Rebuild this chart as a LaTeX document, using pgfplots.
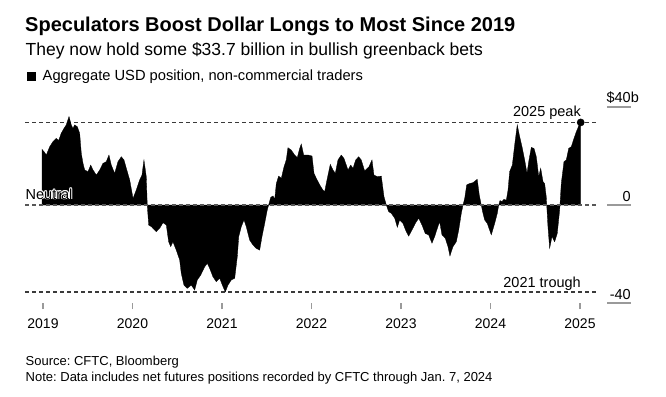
\documentclass[border=0pt]{standalone}
\usepackage{pgfplots}
\pgfplotsset{compat=1.18}
\usepackage{pgfplotstable}
\usepackage{fontspec}
\setmainfont{Liberation Sans}
\frenchspacing

\definecolor{dashgray}{HTML}{3A3A3A}
\definecolor{tickgray}{HTML}{9A9A9A}

\pgfplotstableread{
x v
2018.989 0
2018.989 22.7
2019.011 21.8
2019.037 20.4
2019.075 23.8
2019.112 25.9
2019.149 27.2
2019.175 26.3
2019.204 29.3
2019.235 31.3
2019.260 32.7
2019.291 36.1
2019.316 32.7
2019.335 31.3
2019.354 32.7
2019.383 32.0
2019.410 29.3
2019.428 21.1
2019.447 17.0
2019.466 14.3
2019.503 13.6
2019.533 16.3
2019.559 14.3
2019.596 12.2
2019.634 14.3
2019.670 17.0
2019.707 17.7
2019.737 20.4
2019.763 16.3
2019.801 12.9
2019.838 17.7
2019.875 19.7
2019.905 18.4
2019.931 15.0
2019.969 10.2
2020.006 2.7
2020.042 6.1
2020.080 10.2
2020.106 12.2
2020.128 18.4
2020.154 11.6
2020.165 0.0
2020.181 -8.2
2020.210 -8.8
2020.229 -9.5
2020.266 -10.9
2020.304 -9.5
2020.341 -7.2
2020.378 -8.2
2020.404 -15.0
2020.427 -17.0
2020.452 -15.0
2020.489 -18.4
2020.527 -22.4
2020.545 -27.9
2020.575 -32.7
2020.612 -34.0
2020.657 -32.7
2020.695 -34.7
2020.724 -30.6
2020.762 -28.6
2020.807 -25.2
2020.836 -23.8
2020.863 -25.9
2020.899 -29.3
2020.936 -31.3
2020.974 -29.9
2021.011 -33.3
2021.037 -35.5
2021.067 -32.7
2021.104 -30.6
2021.142 -29.9
2021.171 -21.1
2021.187 -12.9
2021.216 -8.8
2021.246 -6.1
2021.271 -8.8
2021.309 -14.3
2021.346 -16.3
2021.383 -17.7
2021.421 -18.4
2021.447 -12.9
2021.477 -7.5
2021.506 -2.0
2021.525 0.5
2021.544 3.1
2021.570 3.7
2021.589 2.3
2021.607 8.8
2021.633 11.8
2021.663 10.9
2021.693 15.6
2021.718 18.4
2021.737 23.4
2021.774 22.4
2021.812 20.4
2021.841 19.3
2021.868 23.1
2021.886 24.9
2021.913 20.4
2021.961 20.4
2022.006 20.0
2022.028 12.9
2022.054 10.9
2022.092 8.2
2022.128 6.1
2022.147 5.4
2022.177 10.9
2022.210 16.6
2022.240 14.3
2022.266 12.9
2022.296 18.4
2022.333 20.4
2022.363 19.0
2022.408 14.3
2022.438 16.3
2022.464 15.0
2022.494 18.4
2022.527 19.7
2022.556 18.4
2022.594 13.9
2022.642 15.6
2022.676 18.4
2022.698 12.2
2022.735 11.6
2022.780 11.8
2022.810 3.4
2022.836 0.0
2022.862 -2.7
2022.892 -3.4
2022.930 -5.4
2022.959 -9.1
2022.985 -6.1
2023.022 -7.5
2023.059 -10.9
2023.086 -12.7
2023.123 -10.2
2023.160 -7.5
2023.198 -5.4
2023.235 -8.2
2023.271 -11.6
2023.309 -12.2
2023.346 -15.6
2023.376 -12.9
2023.413 -8.8
2023.432 -6.8
2023.458 -12.2
2023.495 -13.6
2023.525 -17.0
2023.547 -20.8
2023.581 -17.0
2023.618 -15.0
2023.645 -10.2
2023.674 -3.4
2023.693 0.0
2023.712 2.7
2023.734 8.2
2023.768 8.8
2023.804 9.1
2023.852 10.5
2023.875 4.0
2023.897 0.0
2023.916 -3.4
2023.935 -6.1
2023.964 -7.5
2024.009 -12.2
2024.047 -7.5
2024.076 -3.4
2024.092 0.0
2024.106 1.8
2024.128 1.4
2024.151 2.3
2024.177 2.0
2024.196 6.1
2024.214 13.6
2024.244 16.3
2024.270 24.5
2024.299 32.7
2024.326 27.9
2024.352 23.8
2024.382 18.4
2024.408 12.9
2024.427 17.7
2024.456 23.5
2024.486 23.1
2024.512 19.7
2024.539 11.6
2024.561 15.0
2024.587 9.5
2024.605 8.8
2024.623 3.4
2024.642 -8.8
2024.661 -17.7
2024.687 -12.9
2024.717 -15.0
2024.746 -11.6
2024.773 -2.0
2024.791 8.8
2024.821 17.7
2024.847 18.4
2024.874 23.1
2024.903 23.8
2024.933 27.2
2024.959 29.9
2024.985 32.2
2025.008 33.7
2025.008 0
}\usdpos

\newcommand{\halo}[1]{%
  \foreach \dx/\dy in {0.9/0,-0.9/0,0/0.9,0/-0.9,0.65/0.65,-0.65/0.65,0.65/-0.65,-0.65/-0.65}{%
    \node[anchor=base west, inner sep=0pt, text=white, font=\fontsize{14.5bp}{17bp}\selectfont] at ([xshift=\dx bp, yshift=\dy bp]25.5bp,-199bp) {#1};}%
  \node[anchor=base west, inner sep=0pt, font=\fontsize{14.5bp}{17bp}\selectfont] at (25.5bp,-199bp) {#1};}

\begin{document}
\begin{tikzpicture}
\useasboundingbox[fill=white] (0bp,0bp) rectangle (666bp,-397bp);

\node[anchor=base west, inner sep=0pt] at (25bp,-31.7bp) {\fontsize{20bp}{24bp}\selectfont\bfseries Speculators Boost Dollar Longs to Most Since 2019};
\node[anchor=base west, inner sep=0pt] at (25.5bp,-55.7bp) {\fontsize{17.5bp}{21bp}\selectfont They now hold some \$33.7 billion in bullish greenback bets};
\fill[black] (27.3bp,-71.7bp) rectangle (36bp,-80.6bp);
\node[anchor=base west, inner sep=0pt] at (42.5bp,-80.3bp) {\fontsize{14.7bp}{17bp}\selectfont Aggregate USD position, non-commercial traders};

\node[anchor=base west, inner sep=0pt] at (25.5bp,-365.5bp) {\fontsize{13bp}{15bp}\selectfont Source: CFTC, Bloomberg};
\node[anchor=base west, inner sep=0pt] at (25.5bp,-381.5bp) {\fontsize{13bp}{15bp}\selectfont Note: Data includes net futures positions recorded by CFTC through Jan. 7, 2024};

\begin{axis}[
  at={(25bp,-303bp)}, anchor=south west,
  scale only axis, width=606bp, height=196bp,
  xmin=2018.799, xmax=2025.570, ymin=-40, ymax=40,
  axis line style={draw=none},
  clip=false,
  xtick={2019,2020,2021,2022,2023,2024,2025},
  xticklabels={2019,2020,2021,2022,2023,2024,2025},
  xtick pos=bottom, ytick pos=right,
  tick align=outside, major tick length=6bp,
  x tick style={tickgray, line width=1.3bp},
  y tick style={draw=none},
  ytick={-40,0,40},
  yticklabels={-40,0,\$40\rlap{b}},
  xticklabel style={inner sep=0pt, anchor=north, yshift=-10bp, font=\fontsize{14bp}{16bp}\selectfont},
  yticklabel style={inner sep=0pt, anchor=south east, xshift=-6bp, yshift=3.5bp, font=\fontsize{14.5bp}{17bp}\selectfont},
]
% reference lines
\addplot[dashgray, line width=1.2bp, dash pattern=on 4bp off 3bp] coordinates {(2018.799,33.7) (2025.201,33.7)};
\addplot[dashgray, line width=1.2bp, dash pattern=on 4bp off 3bp] coordinates {(2018.799,-35.5) (2025.201,-35.5)};
% area
\addplot[fill=black, draw=black, line width=0.3bp] table[x=x, y=v] {\usdpos} -- cycle;
% zero line
\addplot[dashgray!85!white, line width=1.2bp, dash pattern=on 4bp off 3bp] coordinates {(2018.799,0) (2025.201,0)};
% right tick bars
\addplot[tickgray, line width=2bp] coordinates {(2025.302,40) (2025.570,40)};
\addplot[tickgray, line width=2bp] coordinates {(2025.302,0) (2025.570,0)};
\addplot[tickgray, line width=2bp] coordinates {(2025.302,-40) (2025.570,-40)};
% peak dot
\addplot[only marks, mark=*, mark size=3.6bp, black] coordinates {(2025.008,33.7)};
\end{axis}

\halo{Neutral}
\node[anchor=base east, inner sep=0pt, font=\fontsize{14.5bp}{17bp}\selectfont] at (581bp,-116.7bp) {2025 peak};
\node[anchor=base east, inner sep=0pt, font=\fontsize{14.5bp}{17bp}\selectfont] at (581bp,-287bp) {2021 trough};
\end{tikzpicture}
\end{document}
